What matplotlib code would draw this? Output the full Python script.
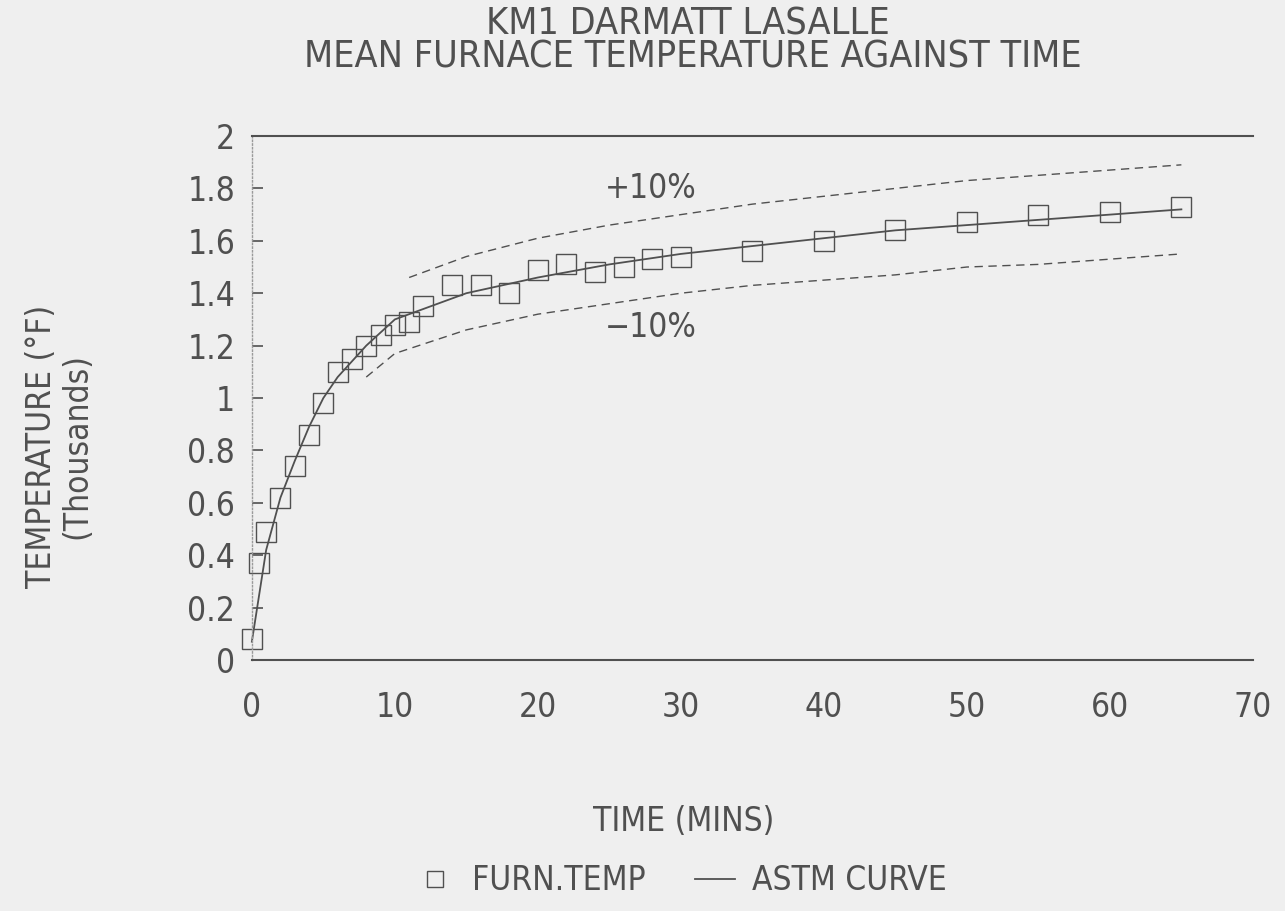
import matplotlib.pyplot as plt
from matplotlib.lines import Line2D

# temps en minutes, temperatures en milliers de degres F
furn_t = [0, 0.5, 1, 2, 3, 4, 5, 6, 7, 8, 9, 10, 11, 12, 14, 16, 18, 20, 22, 24,
          26, 28, 30, 35, 40, 45, 50, 55, 60, 65]
furn_temp = [0.08, 0.37, 0.49, 0.62, 0.74, 0.86, 0.98, 1.10, 1.15, 1.20, 1.24, 1.28,
             1.29, 1.35, 1.43, 1.43, 1.40, 1.49, 1.51, 1.48, 1.50, 1.53, 1.54, 1.56,
             1.60, 1.64, 1.67, 1.70, 1.71, 1.73]

astm_t = [0, 1, 2, 3, 4, 5, 6, 7, 8, 9, 10, 15, 20, 25, 30, 35, 40, 45, 50, 55, 60, 65]
astm_temp = [0.07, 0.42, 0.62, 0.76, 0.89, 1.00, 1.08, 1.14, 1.20, 1.25, 1.30, 1.40,
             1.46, 1.51, 1.55, 1.58, 1.61, 1.64, 1.66, 1.68, 1.70, 1.72]

plus_t = [11, 15, 20, 25, 30, 35, 40, 45, 50, 55, 60, 65]
plus_temp = [1.46, 1.54, 1.61, 1.66, 1.70, 1.74, 1.77, 1.80, 1.83, 1.85, 1.87, 1.89]

minus_t = [8, 10, 15, 20, 25, 30, 35, 40, 45, 50, 55, 60, 65]
minus_temp = [1.08, 1.17, 1.26, 1.32, 1.36, 1.40, 1.43, 1.45, 1.47, 1.50, 1.51, 1.53, 1.55]

x_ticks = [0, 10, 20, 30, 40, 50, 60, 70]
y_ticks = [0, 0.2, 0.4, 0.6, 0.8, 1, 1.2, 1.4, 1.6, 1.8, 2]
y_labels = ['0', '0.2', '0.4', '0.6', '0.8', '1', '1.2', '1.4', '1.6', '1.8', '2']

gris = '#505050'
fond = '#efefef'

plt.rcParams['font.family'] = ['DejaVu Sans']
plt.rcParams['font.stretch'] = 'condensed'
plt.rcParams['font.weight'] = 'light'

fig = plt.figure(figsize=(12.85, 9.11), dpi=100, facecolor=fond)
ax = fig.add_axes([0.196, 0.2755, 0.779, 0.5752])
ax.set_facecolor(fond)

ax.plot(astm_t, astm_temp, '-', color=gris, lw=1.3, clip_on=False)
ax.plot(plus_t, plus_temp, '--', color=gris, lw=1.0, dashes=(6, 4))
ax.plot(minus_t, minus_temp, '--', color=gris, lw=1.0, dashes=(6, 4))
ax.plot(furn_t, furn_temp, 's', ms=14, mfc='none', mec=gris, mew=1.0,
        linestyle='none', clip_on=False)

ax.text(27.9, 1.80, '+10%', color=gris, fontsize=24, ha='center', va='center')
ax.text(27.9, 1.27, '\u221210%', color=gris, fontsize=24, ha='center', va='center')

ax.set_xlim(0, 70)
ax.set_ylim(0, 2)
ax.set_xticks(x_ticks)
ax.set_yticks(y_ticks)
ax.set_yticklabels(y_labels)
ax.tick_params(axis='x', length=0, pad=22, labelsize=24, labelcolor=gris)
ax.tick_params(axis='y', direction='in', length=8, width=1.2, color=gris,
               pad=12, labelsize=24, labelcolor=gris)

for cote in ['top', 'bottom']:
    ax.spines[cote].set_color(gris)
    ax.spines[cote].set_linewidth(1.5)
ax.spines['right'].set_visible(False)
ax.spines['left'].set_color('#9a9a9a')
ax.spines['left'].set_linestyle(':')
ax.spines['left'].set_linewidth(1.0)

fig.text(0.535, 0.973, 'KM1 DARMATT LASALLE', ha='center', va='center',
         fontsize=27, color=gris)
fig.text(0.539, 0.937, 'MEAN FURNACE TEMPERATURE AGAINST TIME', ha='center',
         va='center', fontsize=27, color=gris)

fig.text(0.032, 0.51, 'TEMPERATURE (\u00b0F)', rotation=90, ha='center', va='center',
         fontsize=24, color=gris)
fig.text(0.060, 0.51, '(Thousands)', rotation=90, ha='center', va='center',
         fontsize=24, color=gris)

fig.text(0.532, 0.098, 'TIME (MINS)', ha='center', va='center', fontsize=24,
         color=gris)

poignees = [Line2D([], [], marker='s', ms=11, mfc='none', mec=gris, ls='none'),
            Line2D([], [], color=gris, lw=1.3)]
fig.legend(poignees, ['FURN.TEMP', 'ASTM CURVE'], loc='center',
           bbox_to_anchor=(0.53, 0.033), ncol=2, frameon=False, fontsize=24,
           labelcolor=gris, handlelength=1.2, handletextpad=0.5, columnspacing=1.5)

fig.savefig('out.png', dpi=100, facecolor=fond)
